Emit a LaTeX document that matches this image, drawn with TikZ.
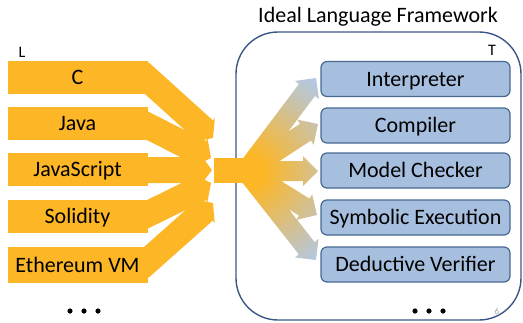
\documentclass[tikz,border=0pt]{standalone}
\usepackage{fontspec}
\setmainfont{Carlito}
\usetikzlibrary{calc}
\definecolor{org}{RGB}{252,182,38}
\definecolor{lblue}{RGB}{167,191,222}
\definecolor{bborder}{RGB}{72,104,146}
\definecolor{framec}{RGB}{58,88,134}
\definecolor{tipblue}{RGB}{178,200,230}
\pgfdeclareradialshading{fan}{\pgfpoint{0bp}{0bp}}{color(0bp)=(org); color(3bp)=(org); color(19bp)=(tipblue); color(50bp)=(tipblue)}
\newcommand\fatarrow[6]{%
 \coordinate (#1s) at (#2);
 \coordinate (#1t) at (#3);
 \coordinate (#1b) at ($(#1t)!#6!(#1s)$);
 \coordinate (#1p1) at ($(#1s)!#4!90:(#1t)$);
 \coordinate (#1p2) at ($(#1b)!#4!90:(#1t)$);
 \coordinate (#1p3) at ($(#1b)!#5!90:(#1t)$);
 \coordinate (#1p4) at ($(#1b)!#5!-90:(#1t)$);
 \coordinate (#1p5) at ($(#1b)!#4!-90:(#1t)$);
 \coordinate (#1p6) at ($(#1s)!#4!-90:(#1t)$);
}
\newcommand\arrowpath[1]{(#1p1) -- (#1p2) -- (#1p3) -- (#1t) -- (#1p4) -- (#1p5) -- (#1p6) -- cycle}
\begin{document}
\begin{tikzpicture}[x=1pt,y=-1pt,
  bigfont/.style={font=\fontsize{22}{26}\selectfont},
  obox/.style={fill=org, minimum width=140pt, minimum height=33pt, inner sep=0pt,
    text height=14pt, text depth=0pt, bigfont},
  tbox/.style={draw=bborder, fill=lblue, line width=1.2pt, rounded corners=6pt,
    minimum width=189pt, minimum height=35pt, inner sep=0pt,
    text height=14pt, text depth=0pt, bigfont},
  smalllab/.style={font=\fontsize{16}{18}\selectfont, inner sep=0pt},
  dot/.style={fill=black}]
\useasboundingbox (0,0) rectangle (523,322);

% framework frame
\node[draw=framec, line width=1.4pt, rounded corners=42pt, minimum width=285pt,
  minimum height=288pt, inner sep=0pt] (fw) at (378.5,176) {};
\node[font=\fontsize{22}{26}\selectfont, anchor=base, inner sep=0pt] (title) at (378,22) {Ideal Language Framework};
\node[smalllab] (T) at (492,50) {T};
\node[smalllab] (L) at (22,52) {L};

% target boxes
\node[tbox] (interp) at (415.5,79) {Interpreter};
\node[tbox] (comp) at (415.5,125.5) {Compiler};
\node[tbox] (model) at (415.5,170.5) {Model Checker};
\node[tbox] (symb) at (415.5,217.5) {Symbolic Execution};
\node[tbox] (deduct) at (415.5,264.5) {Deductive Verifier};

% blue fan arrows
\fatarrow{ba}{246,171}{316,78}{10pt}{15pt}{15pt}
\fatarrow{bb}{246,171}{318,124}{10pt}{15pt}{15pt}
\fatarrow{bc}{246,171}{318,171}{10pt}{15pt}{15pt}
\fatarrow{bd}{246,171}{317,215}{10pt}{15pt}{15pt}
\fatarrow{be}{246,171}{316,260}{10pt}{15pt}{15pt}
\begin{scope}
\clip \arrowpath{ba} \arrowpath{bb} \arrowpath{bc} \arrowpath{bd} \arrowpath{be};
\shade[shading=fan] (246,171) circle[radius=150pt];
\end{scope}

% orange converging arrows
\fatarrow{oa}{140,72}{213,138}{13pt}{16pt}{12pt}
\fatarrow{ob}{140,122}{211,158}{13pt}{16pt}{12pt}
\fatarrow{oc}{140,170}{212,170}{13pt}{16pt}{12pt}
\fatarrow{od}{140,218}{211,183}{13pt}{16pt}{12pt}
\fatarrow{oe}{140,268}{213,203}{13pt}{16pt}{12pt}
\fill[org] \arrowpath{oa};
\fill[org] \arrowpath{ob};
\fill[org] \arrowpath{oe};
\fill[org] \arrowpath{od};
\fill[org] \arrowpath{oc};

% source boxes
\node[obox] (c) at (77.5,77) {C};
\node[obox] (java) at (77.5,123.5) {Java};
\node[obox] (js) at (77.5,169.5) {JavaScript};
\node[obox] (sol) at (77.5,216.5) {Solidity};
\node[obox, minimum height=36pt] (evm) at (77.5,265) {Ethereum VM};

% hub block
\node[fill=org, minimum width=36pt, minimum height=25pt, inner sep=0pt] (hub) at (232,170.5) {};

% ellipses
\fill[dot] (70,311) circle[radius=2.6pt] (84,311) circle[radius=2.6pt] (98,311) circle[radius=2.6pt];
\fill[dot] (415,311) circle[radius=2.6pt] (429,311) circle[radius=2.6pt] (443,311) circle[radius=2.6pt];
\node[font=\fontsize{9}{10}\selectfont, text=gray!70, inner sep=0pt] (pg) at (497,311) {6};
\end{tikzpicture}
\end{document}
